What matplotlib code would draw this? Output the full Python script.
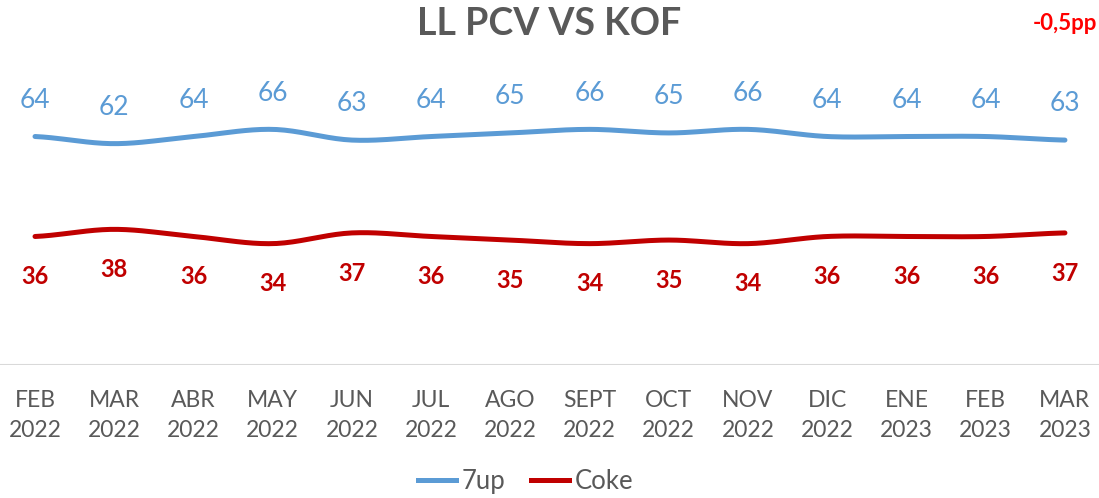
import numpy as np
import matplotlib.pyplot as plt
from matplotlib.lines import Line2D

months = ['FEB\n2022', 'MAR\n2022', 'ABR\n2022', 'MAY\n2022', 'JUN\n2022', 'JUL\n2022', 'AGO\n2022',
          'SEPT\n2022', 'OCT\n2022', 'NOV\n2022', 'DIC\n2022', 'ENE\n2023', 'FEB\n2023', 'MAR\n2023']
up7 = [64, 62, 64, 66, 63, 64, 65, 66, 65, 66, 64, 64, 64, 63]
coke = [36, 38, 36, 34, 37, 36, 35, 34, 35, 34, 36, 36, 36, 37]

blue = '#5B9BD5'
red = '#C00000'
gray = '#595959'
plt.rcParams['font.family'] = ['Lato', 'DejaVu Sans']


def smooth(y, n=20):
    # catmull-rom curve through the points, like excel's smoothed line
    y = np.asarray(y, float)
    p = np.concatenate([[y[0]], y, [y[-1]]])
    xs, ys = [], []
    for i in range(len(y) - 1):
        t = np.linspace(0, 1, n, endpoint=False)
        p0, p1, p2, p3 = p[i], p[i + 1], p[i + 2], p[i + 3]
        v = 0.5 * ((2 * p1) + (-p0 + p2) * t + (2 * p0 - 5 * p1 + 4 * p2 - p3) * t ** 2
                   + (-p0 + 3 * p1 - 3 * p2 + p3) * t ** 3)
        xs.extend(i + t)
        ys.extend(v)
    xs.append(len(y) - 1)
    ys.append(y[-1])
    return np.array(xs), np.array(ys)


fig = plt.figure(figsize=(10.99, 4.98), dpi=100)
ax = fig.add_axes([0, 0.267, 1, 0.717])
x = np.arange(len(months))

sx, sy = smooth(up7)
ax.plot(sx, sy, color=blue, lw=3.6, solid_capstyle='round')
sx, sy = smooth(coke)
ax.plot(sx, sy, color=red, lw=3.6, solid_capstyle='round')

for i in x:
    ax.annotate(str(up7[i]), (i, up7[i]), xytext=(0, 26), textcoords='offset points',
                ha='center', va='center', fontsize=19, color=blue)
    ax.annotate(str(coke[i]), (i, coke[i]), xytext=(0, -29), textcoords='offset points',
                ha='center', va='center', fontsize=17, color=red, fontweight='bold')

ax.set_xlim(-0.442, 13.43)
ax.set_ylim(0, 100)
ax.axhline(0, color='#D9D9D9', lw=1.5)
for s in ax.spines.values():
    s.set_visible(False)
ax.set_yticks([])
ax.set_xticks(x)
ax.set_xticklabels(months, fontsize=16.5, color=gray, linespacing=1.55)
ax.tick_params(axis='x', length=0, pad=18)

fig.text(0.5, 0.952, 'LL PCV VS KOF', ha='center', va='center', fontsize=27,
         fontweight='bold', color=gray)
fig.text(0.998, 0.952, '-0,5pp', ha='right', va='center', fontsize=16,
         fontweight='bold', color='#FF0000')

handles = [Line2D([], [], color=blue, lw=3.6), Line2D([], [], color=red, lw=3.6)]
fig.legend(handles, ['7up', 'Coke'], loc='center', bbox_to_anchor=(0.478, 0.033), ncol=2,
           frameon=False, fontsize=18.5, handlelength=1.5, handletextpad=0.2, columnspacing=1.0,
           labelcolor=gray)

fig.savefig('out.png', dpi=100)
